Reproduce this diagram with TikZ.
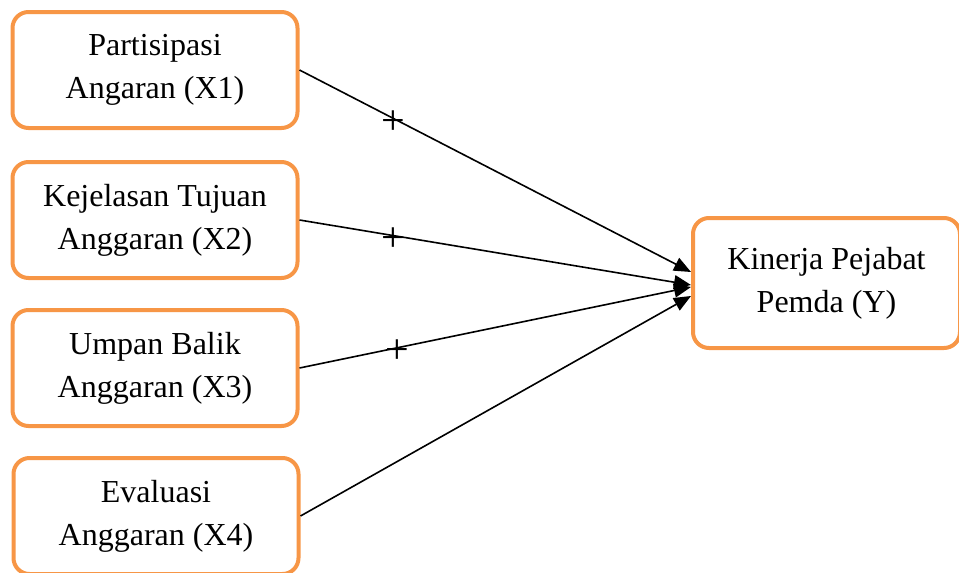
\documentclass[tikz,border=0pt]{standalone}
\usepackage{fontspec}
\setmainfont{Liberation Serif}
\usetikzlibrary{arrows.meta}
\definecolor{jingga}{RGB}{247,150,70}

\begin{document}
\begin{tikzpicture}[x=0.5pt, y=-0.5pt, >={Triangle[length=8.5pt,width=7pt]}]
  % bingkai gambar
  \useasboundingbox (0,0) rectangle (959,573);
  \tikzset{
    kotak/.style={draw=jingga, line width=2pt, rounded corners=8pt, fill=white,
      align=center, minimum width=142.5pt, minimum height=58pt,
      font=\fontsize{16pt}{21.5pt}\selectfont},
    panah/.style={->, line width=0.8pt},
    tanda/.style={font=\fontsize{21pt}{21pt}\selectfont, inner sep=0pt, yshift=-2pt}
  }
  % variabel bebas
  \node[kotak] (x1) at (155,70)  {Partisipasi\\Angaran (X1)};
  \node[kotak] (x2) at (155,220) {Kejelasan Tujuan\\Anggaran (X2)};
  \node[kotak] (x3) at (155,368) {Umpan Balik\\Anggaran (X3)};
  \node[kotak] (x4) at (156,516) {Evaluasi\\Anggaran (X4)};
  % variabel terikat
  \node[kotak, minimum width=133.5pt, minimum height=65pt] (y) at (826.5,283)
    {Kinerja Pejabat\\Pemda (Y)};
  % hubungan
  \draw[panah] (x1.east) -- ([yshift=5.5pt]y.west) node[tanda, pos=0.24] {+};
  \draw[panah] (x2.east) -- ([yshift=-1pt]y.west) node[tanda, pos=0.24] {+};
  \draw[panah] (x3.east) -- ([yshift=-2pt]y.west) node[tanda, pos=0.25] {+};
  \draw[panah] (x4.east) -- ([yshift=-6.5pt]y.west);
\end{tikzpicture}
\end{document}
